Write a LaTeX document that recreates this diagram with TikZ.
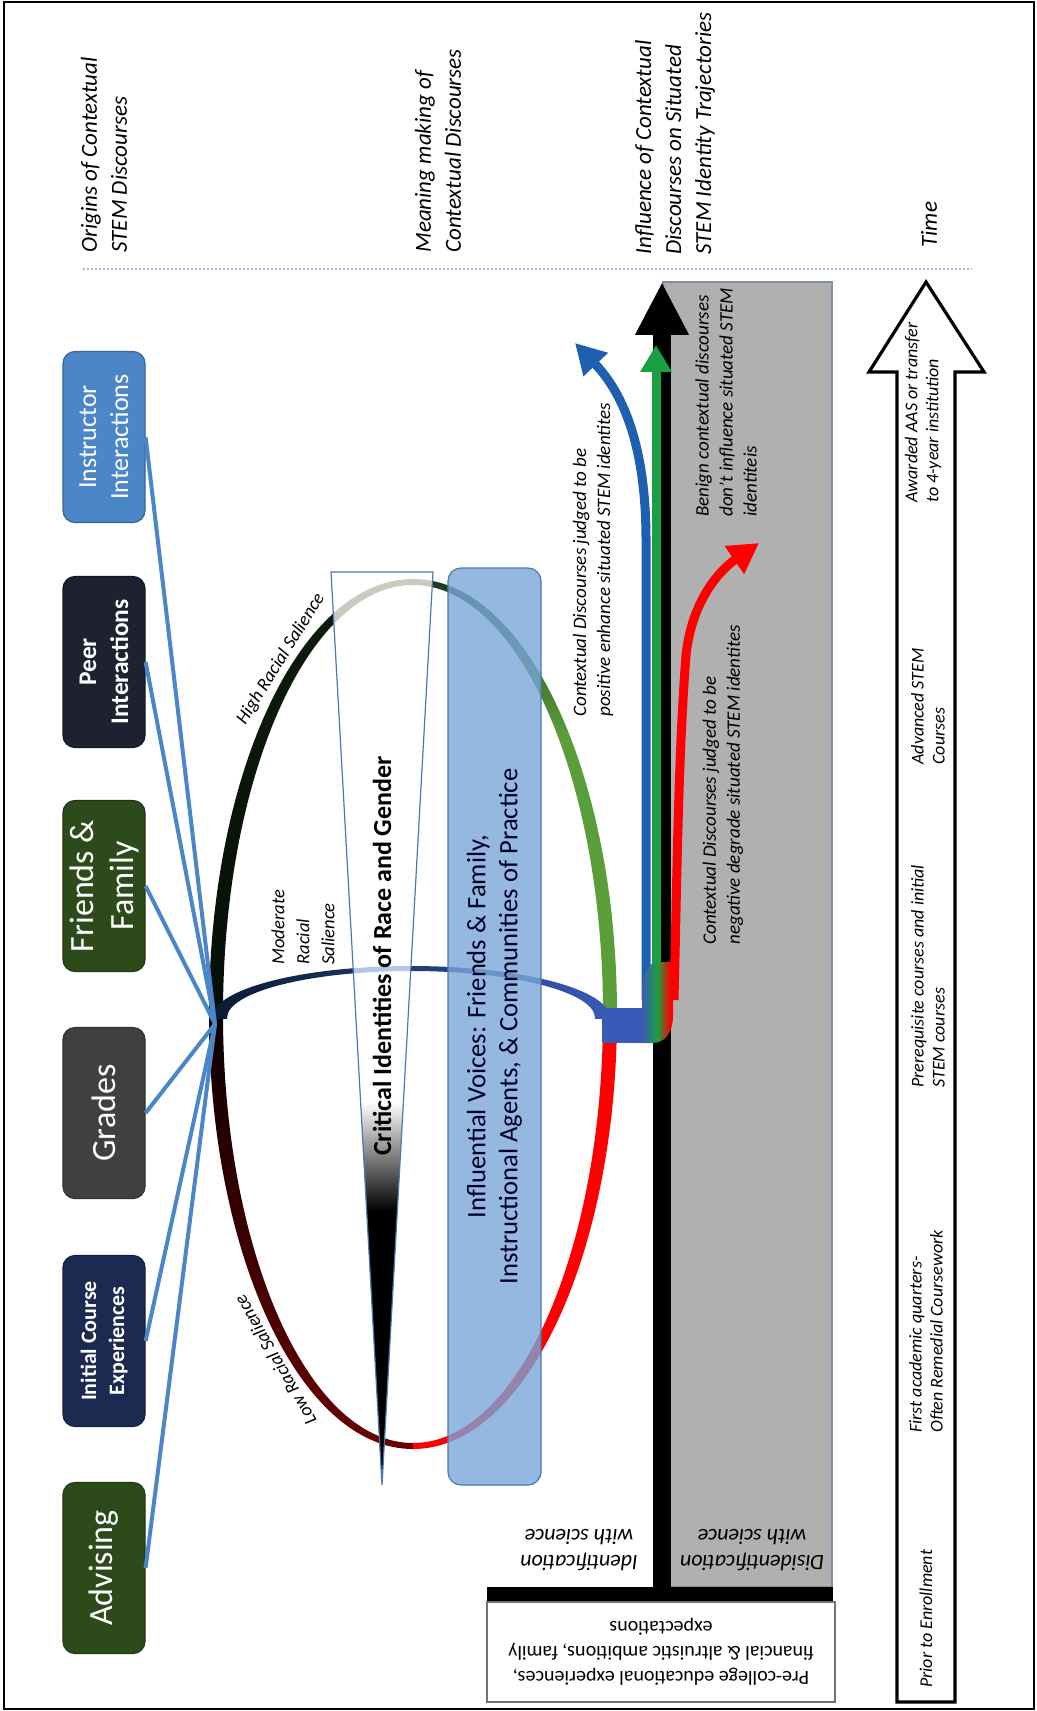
\documentclass[tikz,border=0pt]{standalone}
\usepackage{fontspec}
\setmainfont{Carlito}
\usetikzlibrary{arrows.meta}
\definecolor{boxblue}{HTML}{4A86C8}
\definecolor{boxnavy}{HTML}{1E2230}
\definecolor{boxgreen}{HTML}{2D4A1A}
\definecolor{boxgray}{HTML}{404040}
\definecolor{boxdnavy}{HTML}{1C2A52}
\definecolor{linkblue}{HTML}{4A86C8}
\definecolor{voiceblue}{HTML}{7AA6D8}
\definecolor{voiceedge}{HTML}{4A78B0}
\definecolor{arrblue}{HTML}{1F5FB0}
\definecolor{arrgreen}{HTML}{1AA040}
\definecolor{arrred}{HTML}{FF0000}
\definecolor{grayfill}{HTML}{B0B0B0}
\definecolor{grayedge}{HTML}{7F8FA8}
\definecolor{dotblue}{HTML}{9AB8D8}
\definecolor{arcgreen}{HTML}{5A9E3A}
\definecolor{arcdkgreen}{HTML}{1A3A1A}
\definecolor{arcdkred}{HTML}{6A0000}
\definecolor{arcnavy}{HTML}{0A1A30}
\definecolor{junctblue}{HTML}{3A5AB8}
\definecolor{arcfade}{HTML}{C8CCC0}
\pgfdeclareverticalshading{tritone}{100bp}{color(0bp)=(black); color(40bp)=(black); color(46bp)=(white); color(100bp)=(white)}
\pgfdeclareverticalshading{trgreen}{100bp}{color(0bp)=(arcgreen); color(66bp)=(arcgreen); color(75bp)=(arcdkgreen); color(100bp)=(arcdkgreen)}
\pgfdeclarehorizontalshading{junctshade}{100bp}{color(0bp)=(junctblue); color(25bp)=(junctblue); color(50bp)=(arrgreen); color(70bp)=(arrred); color(100bp)=(arrred)}
\begin{document}
\begin{tikzpicture}[x=0.5pt,y=-0.5pt,
  srcbox/.style={rectangle, rounded corners=6pt, rotate=90, minimum width=85.5pt, minimum height=41pt, inner sep=2pt, draw=#1!75!black, fill=#1, text=white, align=center, line width=0.6pt},
  link/.style={draw=linkblue, line width=2pt},
  hdr/.style={rotate=90, anchor=west, align=left, inner sep=0pt, font=\fontsize{11.5}{15}\selectfont\itshape},
  note/.style={rotate=90, anchor=west, align=left, inner sep=0pt, font=\fontsize{9.5}{12}\selectfont\itshape},
  tnote/.style={rotate=90, anchor=west, align=left, inner sep=0pt, font=\fontsize{9}{10.5}\selectfont\itshape},
  sal/.style={inner sep=0pt, font=\fontsize{9.3}{12.5}\selectfont\itshape},
  flip/.style={rotate=180, align=center, inner sep=0pt},
]
\useasboundingbox (0,0) rectangle (1037,1711);
% frame
\draw[line width=1pt] (4,2) rectangle (1034,1709);

% headers
\node[hdr] (h1) at (104,253) {Origins of Contextual\\STEM Discourses};
\node[hdr] (h2) at (438,253) {Meaning making of\\Contextual Discourses};
\node[hdr] (h3) at (675,255) {Influence of Contextual\\Discourses on Situated\\STEM Identity Trajectories};
\node[hdr] (h4) at (929,248) {Time};
\coordinate (dl) at (83,269);
\coordinate (dr) at (972,269);
\draw[dotblue, line width=1pt, dash pattern=on 1pt off 1pt] (dl) -- (dr);

% gray region
\fill[grayfill] (663,282) rectangle (832,1587);
\draw[grayedge, line width=0.6pt] (663,282) rectangle (832,1587);

% hollow time arrow
\draw[line width=1.6pt, fill=white, line join=miter] (897,1702) -- (897,372) -- (869,372) -- (926,282) -- (984,372) -- (955,372) -- (955,1702) -- cycle;

% big ellipse quadrants
\begin{scope}
\clip (150,1014) rectangle (413,560);
\shade[top color=arcdkgreen!50!black, bottom color=black, even odd rule] (413,1014) ellipse [x radius=204, y radius=435] (413,1014) ellipse [x radius=190, y radius=429];
\end{scope}
\begin{scope}
\clip (413,560) rectangle (640,1014);
\shade[shading=trgreen, even odd rule] (413,1014) ellipse [x radius=204, y radius=435] (413,1014) ellipse [x radius=190, y radius=429];
\end{scope}
\begin{scope}
\clip (150,1014) rectangle (413,1470);
\shade[top color=black, bottom color=arcdkred, middle color=black!90!arcdkred, even odd rule] (413,1014) ellipse [x radius=204, y radius=435] (413,1014) ellipse [x radius=190, y radius=429];
\end{scope}
\begin{scope}
\clip (413,1014) rectangle (640,1470);
\fill[arrred, even odd rule] (413,1014) ellipse [x radius=204, y radius=435] (413,1014) ellipse [x radius=190, y radius=429];
\end{scope}
% moderate arc
\begin{scope}
\clip (200,1018) rectangle (620,950);
\shade[left color=arcnavy, right color=junctblue, even odd rule] (411,1018) ellipse [x radius=199, y radius=52] (411,1018) ellipse [x radius=184, y radius=47];
\end{scope}

% tapered triangle
\shade[shading=tritone] (331,572) -- (433,572) -- (382,1485) -- cycle;
\begin{scope}
\clip (331,572) -- (433,572) -- (382,1485) -- cycle;
\begin{scope}
\clip (300,560) rectangle (460,800);
\fill[arcfade, even odd rule] (413,1014) ellipse [x radius=204, y radius=435] (413,1014) ellipse [x radius=190, y radius=429];
\end{scope}
\begin{scope}
\clip (300,1018) rectangle (460,950);
\fill[arrblue!35, even odd rule] (411,1018) ellipse [x radius=199, y radius=52] (411,1018) ellipse [x radius=184, y radius=47];
\end{scope}
\end{scope}
\draw[voiceedge, line width=0.6pt] (331,572) -- (433,572) -- (382,1485) -- cycle;

% influential voices
\node[rectangle, rotate=90, rounded corners=6.5pt, minimum width=458.5pt, minimum height=46.5pt, fill=voiceblue, fill opacity=0.8, text opacity=1, draw=voiceedge, line width=0.6pt, align=center, text=black!85!blue, font=\fontsize{13.3}{16}\selectfont] (voices) at (494.5,1026.5) {Influential Voices: Friends \& Family,\\Instructional Agents, \& Communities of Practice};

% black axis arrow and base bar
\coordinate (kbase) at (662,1601);
\coordinate (ktip) at (662,282);
\draw[line width=9pt, -{Triangle[length=26.5pt, width=25pt]}] (kbase) -- (ktip);
\fill (487,1587) rectangle (833,1602);

% junction
\fill[junctblue] (602,1008) rectangle (643,1043);
\coordinate (jb) at (646,1000);
\coordinate (jg) at (656,990);
\coordinate (jr) at (674,1000);
\coordinate (tb) at (575,343);
\coordinate (tg) at (656,345);
\coordinate (tr) at (759,543);
\draw[arrblue, line width=4.5pt, -{Triangle[length=15pt, width=16pt]}] (jb) -- (646,540) .. controls (646,450) and (625,395) .. (tb);
\draw[arrgreen, line width=4.5pt, -{Triangle[length=13.5pt, width=15pt]}] (jg) -- (tg);
\draw[arrred, line width=4.5pt, -{Triangle[length=15pt, width=16pt]}] (jr) .. controls (677,880) and (678,760) .. (686,655) .. controls (692,600) and (720,570) .. (tr);
\shade[shading=junctshade] (642,1043) -- (642,983) .. controls (646,970) and (650,963) .. (656,962) -- (673,962) -- (673,1015) .. controls (673,1033) and (665,1043) .. (652,1043) -- cycle;

% pre-college box
\node[draw=black!55, line width=0.6pt, minimum width=174pt, minimum height=50pt, flip, font=\fontsize{10}{12.5}\selectfont] (pre) at (661,1652) {Pre-college educational experiences,\\financial \& altruistic ambitions, family\\expectations};
\node[flip, font=\fontsize{11}{13}\selectfont\itshape] (idn) at (579,1550) {Identification\\with science};
\node[flip, font=\fontsize{11}{13}\selectfont\itshape] (disid) at (752,1550) {Disidentification\\with science};

% source boxes
\node[srcbox=boxblue, font=\fontsize{13}{16}\selectfont] (ins) at (104,437) {Instructor\\Interactions};
\node[srcbox=boxnavy, font=\fontsize{12.7}{16}\selectfont\bfseries] (peer) at (104,662) {Peer\\Interactions};
\node[srcbox=boxgreen, font=\fontsize{17}{20}\selectfont] (fam) at (104,886) {Friends \&\\Family};
\node[srcbox=boxgray, font=\fontsize{17}{20}\selectfont] (grd) at (104,1113) {Grades};
\node[srcbox=boxdnavy, font=\fontsize{11}{14}\selectfont\bfseries] (init) at (104,1341) {Initial Course\\Experiences};
\node[srcbox=boxgreen, font=\fontsize{17}{20}\selectfont] (adv) at (104,1568) {Advising};
\coordinate (hub) at (215,1024);
\foreach \b in {ins,peer,fam,grd,init,adv} \draw[link] (\b.south) -- (hub);

% labels
\node[rotate=90, font=\fontsize{13}{15}\selectfont\bfseries, inner sep=0pt] (crit) at (382,956) {Critical Identities of Race and Gender};
\node[sal, rotate=58] (high) at (281,659) {High Racial Salience};
\node[sal, rotate=120] (low) at (275,1360) {Low Racial Salience};
\node[sal, rotate=90, anchor=west, align=left] (mod) at (303,965) {Moderate\\Racial\\Salience};

\node[note] (pos) at (593,717) {Contextual Discourses judged to be\\positive enhance situated STEM identites};
\node[note] (neg) at (723,945) {Contextual Discourses judged to be\\negative degrade situated STEM identites};
\node[note] (ben) at (726,517) {Benign contextual discourses\\don’t influence situated STEM\\identiteis};

\node[tnote] (t5) at (923,503) {Awarded AAS or transfer\\to 4-year institution};
\node[tnote] (t4) at (928,765) {Advanced STEM\\Courses};
\node[tnote] (t3) at (928,1088) {Prerequisite courses and initial\\STEM courses};
\node[tnote] (t2) at (926,1433) {First academic quarters-\\Often Remedial Coursework};
\node[tnote] (t1) at (926,1688) {Prior to Enrollment};
\end{tikzpicture}
\end{document}
